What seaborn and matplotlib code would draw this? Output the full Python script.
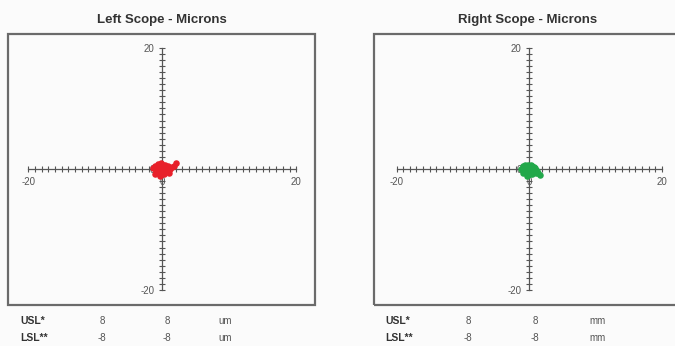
import numpy as np
import matplotlib
matplotlib.use("Agg")
import matplotlib.pyplot as plt
from matplotlib.patches import Rectangle
from matplotlib.ticker import FixedLocator
import seaborn as sns

sns.set_theme(style="white")
plt.rcParams["font.family"] = ["Liberation Sans", "DejaVu Sans"]
plt.rcParams["axes.unicode_minus"] = False

# ── data ────────────────────────────────────────────────────────────────────
left_x = [-1.4, -1.1, -0.9, -0.6, -0.4, -0.2, 0.0, 0.2, 0.4, 0.6, 0.8, 1.0, 1.2,
          -1.0, -0.7, -0.3, 0.1, 0.5, 0.9, -0.8, -0.2, 0.3, 0.7, -0.5, 0.0,
          1.4, 1.8, 2.1, -0.3]
left_y = [0.1, 0.5, -0.3, 0.8, -0.7, 0.9, 0.3, -0.9, 0.6, -0.4, 0.2, -0.6, 0.0,
          -0.8, 0.2, -0.2, 0.7, 0.1, 0.5, -0.5, -0.6, 0.4, -0.2, 0.4, -0.3,
          0.3, 0.5, 1.0, -1.2]
right_x = [-1.2, -1.0, -0.8, -0.6, -0.4, -0.2, 0.0, 0.2, 0.4, 0.6, 0.8, 1.0, 1.2,
           -0.9, -0.5, -0.1, 0.3, 0.7, 1.1, -0.7, -0.3, 0.1, 0.5, 0.9, 1.4,
           1.7, 0.0]
right_y = [0.0, 0.4, -0.4, 0.6, -0.8, 0.7, 0.2, -0.9, 0.5, -0.5, 0.1, -0.7, -0.3,
           -0.6, 0.1, -0.3, 0.6, 0.3, -0.1, -0.2, -1.1, 0.4, -0.8, 0.2, -0.6,
           -1.0, -0.6]

titles = ["Left Scope - Microns", "Right Scope - Microns"]
colors = ["#e8202a", "#22a84a"]
limit_rows = ["USL*", "LSL**"]
usl_vals = ["8", "8"]
lsl_vals = ["-8", "-8"]
units = ["um", "mm"]

W, H = 675, 346
fig = plt.figure(figsize=(W / 100, H / 100), dpi=100)
fig.patch.set_facecolor("#fbfbfb")

# panel geometry in pixels: (left, top, width, height, xlim, ylim)
panels = [
    (8, 34, 307, 271, (-23.0, 22.8), (-22.5, 22.3)),
    (374, 34, 307, 271, (-23.4, 22.9), (-22.5, 22.3)),
]
# table column x positions in pixels per panel
table_cols = [(20, 102, 167, 225), (385, 468, 535, 598)]


def draw_scope(ax, xs, ys, color, xlim, ylim):
    ax.set_facecolor("#fbfbfb")
    sns.scatterplot(x=xs, y=ys, ax=ax, color=color, s=22, edgecolor=color,
                    linewidth=0, zorder=5)
    ax.set_xlim(*xlim)
    ax.set_ylim(*ylim)
    for side in ["top", "right"]:
        ax.spines[side].set_visible(False)
    for side in ["left", "bottom"]:
        ax.spines[side].set_position(("data", 0))
        ax.spines[side].set_bounds(-20, 20)
        ax.spines[side].set_color("#555555")
        ax.spines[side].set_linewidth(0.9)
    ax.set_xticks([-20, 0, 20])
    ax.set_yticks([-20, 0, 20])
    ax.xaxis.set_minor_locator(FixedLocator(range(-20, 21)))
    ax.yaxis.set_minor_locator(FixedLocator(range(-20, 21)))
    ax.tick_params(which="both", direction="inout", length=5, width=0.8,
                   color="#555555", bottom=True, left=True)
    ax.tick_params(labelsize=7, labelcolor="#555555", pad=3)
    ax.set_xlabel("")
    ax.set_ylabel("")
    ax.add_patch(Rectangle((0, 0), 1, 1, transform=ax.transAxes, fill=False,
                           edgecolor="#6a6a6a", linewidth=1.6, clip_on=False,
                           zorder=10))


data = [(left_x, left_y), (right_x, right_y)]
for i, (px, py, pw, ph, xlim, ylim) in enumerate(panels):
    ax = fig.add_axes([px / W, 1 - (py + ph) / H, pw / W, ph / H])
    draw_scope(ax, data[i][0], data[i][1], colors[i], xlim, ylim)

    cx = px + 154
    fig.text(cx / W, 1 - 20 / H, titles[i], ha="center", va="center",
             fontsize=9.5, fontweight="bold", color="#333333")

    c0, c1, c2, c3 = table_cols[i]
    for row, (label, v1, v2) in enumerate([(limit_rows[0], usl_vals[i], usl_vals[i]),
                                           (limit_rows[1], lsl_vals[i], lsl_vals[i])]):
        y = 1 - (321 + row * 17) / H
        fig.text(c0 / W, y, label, ha="left", va="center", fontsize=7.5,
                 fontweight="bold", color="#333333")
        fig.text(c1 / W, y, v1, ha="center", va="center", fontsize=7,
                 color="#555555")
        fig.text(c2 / W, y, v2, ha="center", va="center", fontsize=7,
                 color="#555555")
        fig.text(c3 / W, y, units[i], ha="center", va="center", fontsize=7,
                 color="#555555")

fig.savefig("out.png", dpi=100, facecolor=fig.get_facecolor())
